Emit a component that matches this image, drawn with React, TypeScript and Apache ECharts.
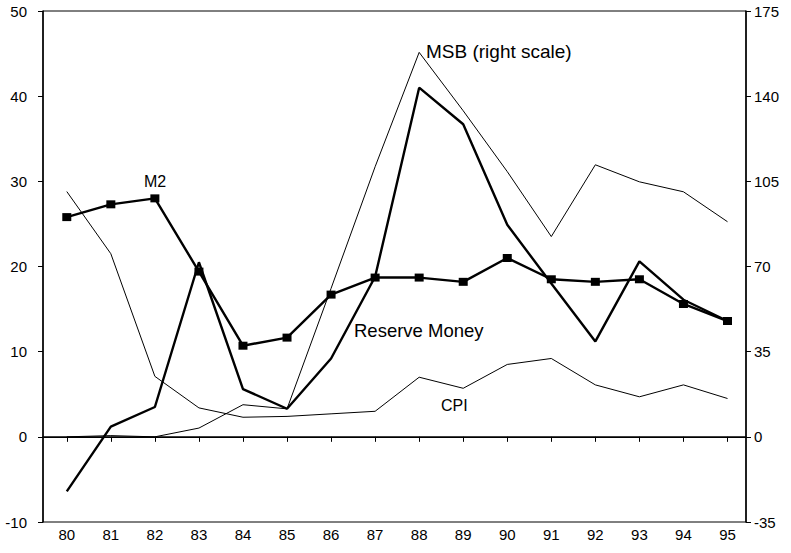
import React, { useEffect, useRef } from "react";
import * as echarts from "echarts";

const years = [80, 81, 82, 83, 84, 85, 86, 87, 88, 89, 90, 91, 92, 93, 94, 95];
const m2 = [25.8, 27.3, 28.0, 19.4, 10.7, 11.65, 16.7, 18.7, 18.7, 18.2, 21.0, 18.5, 18.2, 18.5, 15.6, 13.6];
const reserveMoney = [-6.4, 1.2, 3.5, 20.5, 5.6, 3.3, 9.2, 18.8, 41.0, 36.7, 24.9, 18.0, 11.2, 20.6, 16.1, 13.6];
const msb = [0, 0.5, 0, 3.6, 13.2, 11.5, 61, 111, 158, 134, 109, 82.3, 111.8, 104.8, 100.7, 88.4];
const cpi = [28.8, 21.5, 7.1, 3.4, 2.3, 2.4, 2.7, 3.0, 7.0, 5.7, 8.5, 9.2, 6.1, 4.7, 6.1, 4.5];

const FONT = "Liberation Sans";

export default function App() {
  const ref = useRef<HTMLDivElement>(null);
  useEffect(() => {
    if (!ref.current) return;
    const chart = echarts.init(ref.current, null, { renderer: "svg" });
    const pairs = (arr: number[]) => years.map((y, i) => [y, arr[i]]);
    const thin = { color: "#000", width: 1 };
    const thick = { color: "#000", width: 2.4 };
    chart.setOption({
      animation: false,
      backgroundColor: "#fff",
      grid: {
        left: 43,
        right: 45,
        top: 11,
        bottom: 31,
        show: true,
        borderColor: "#000",
        borderWidth: 1,
        backgroundColor: "transparent",
      },
      xAxis: {
        type: "value",
        min: 79.46,
        max: 95.42,
        splitLine: { show: false },
        axisLine: { lineStyle: { color: "#000", width: 1.5 } },
        axisTick: { show: true, customValues: years, length: 5, lineStyle: { color: "#000" } },
        axisLabel: {
          customValues: years,
          formatter: (v: number) => String(v),
          color: "#000",
          fontFamily: FONT,
          fontSize: 15,
          margin: 5,
        },
      },
      yAxis: [
        {
          type: "value",
          min: -10,
          max: 50,
          interval: 10,
          position: "left",
          splitLine: { show: false },
          axisLine: { show: true, lineStyle: { color: "#000", width: 1.5 } },
          axisTick: { show: true, length: 5, lineStyle: { color: "#000" } },
          axisLabel: { color: "#000", fontFamily: FONT, fontSize: 15, margin: 16 },
        },
        {
          type: "value",
          min: -35,
          max: 175,
          interval: 35,
          position: "right",
          splitLine: { show: false },
          axisLine: { show: true, lineStyle: { color: "#000", width: 1.5 } },
          axisTick: { show: true, length: 5, lineStyle: { color: "#000" } },
          axisLabel: { color: "#000", fontFamily: FONT, fontSize: 15, margin: 8 },
        },
      ],
      series: [
        {
          name: "CPI",
          type: "line",
          yAxisIndex: 0,
          data: pairs(cpi),
          showSymbol: false,
          lineStyle: thin,
          markLine: {
            silent: true,
            symbol: "none",
            label: { show: false },
            lineStyle: { color: "#000", width: 1, type: "solid" },
            data: [{ yAxis: 0 }],
          },
        },
        {
          name: "MSB",
          type: "line",
          yAxisIndex: 1,
          data: pairs(msb),
          showSymbol: false,
          lineStyle: thin,
        },
        {
          name: "Reserve Money",
          type: "line",
          yAxisIndex: 0,
          data: pairs(reserveMoney),
          showSymbol: false,
          lineStyle: thick,
        },
        {
          name: "M2",
          type: "line",
          yAxisIndex: 0,
          data: pairs(m2),
          symbol: "rect",
          symbolSize: [9, 8],
          itemStyle: { color: "#000" },
          lineStyle: thick,
        },
      ],
      graphic: [
        { type: "text", left: 144, top: 173, style: { text: "M2", font: `16px "${FONT}"`, fill: "#000" } },
        { type: "text", left: 426, top: 42, style: { text: "MSB (right scale)", font: `19px "${FONT}"`, fill: "#000" } },
        { type: "text", left: 354, top: 321, style: { text: "Reserve Money", font: `18.5px "${FONT}"`, fill: "#000" } },
        { type: "text", left: 441, top: 397, style: { text: "CPI", font: `16px "${FONT}"`, fill: "#000" } },
      ],
    });
    return () => chart.dispose();
  }, []);
  return (
    <div
      ref={ref}
      style={{ position: "fixed", left: 0, top: 0, width: 791, height: 553, background: "#fff" }}
    />
  );
}
